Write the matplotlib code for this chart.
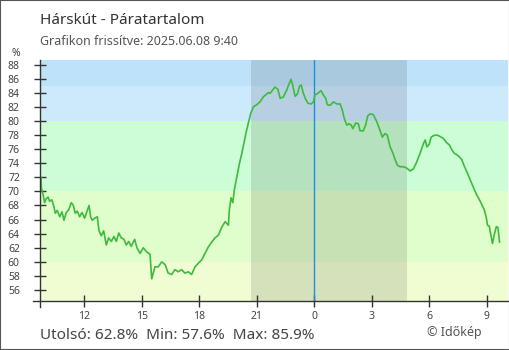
import matplotlib
matplotlib.use('Agg')
import matplotlib.pyplot as plt
from matplotlib.lines import Line2D
from matplotlib.patches import Rectangle

plt.rcParams['font.family'] = ['Noto Sans', 'DejaVu Sans']

# hours since 06.07 00:00 (values > 24 are on 06.08)
hours = [
    9.72, 9.74, 9.76, 9.84, 9.93, 10.02, 10.11, 10.19, 10.31, 10.42,
    10.49, 10.59, 10.72, 10.84, 10.94, 11.06, 11.19, 11.32, 11.43, 11.53,
    11.63, 11.76, 11.88, 12.02, 12.16, 12.25, 12.33, 12.42, 12.54, 12.68,
    12.77, 12.89, 13.01, 13.15, 13.27, 13.41, 13.55, 13.67, 13.80, 13.93,
    14.07, 14.19, 14.32, 14.45, 14.63, 14.75,
    14.91, 15.08, 15.26, 15.43, 15.52, 15.69,
    15.86, 16.04, 16.22, 16.38, 16.56, 16.73, 16.90, 17.08, 17.25, 17.43,
    17.60, 17.78, 17.95, 18.13, 18.30, 18.47, 18.65, 18.82, 19.00, 19.17,
    19.35, 19.52, 19.57, 19.66, 19.75, 19.83, 19.96, 20.10, 20.22, 20.34,
    20.45, 20.57, 20.69, 20.83, 21.00, 21.17, 21.34, 21.60, 21.69, 21.95,
    22.10, 22.22, 22.39, 22.57, 22.69, 22.79, 22.88, 23.00, 23.12, 23.23,
    23.32, 23.41, 23.53, 23.67, 23.84, 23.96, 24.04, 24.18, 24.35, 24.47,
    24.60, 24.68, 24.82, 25.00, 25.18, 25.35, 25.47, 25.56, 25.70, 25.82,
    25.93, 26.01, 26.17, 26.30, 26.39, 26.56, 26.68, 26.79, 26.91, 27.08,
    27.26, 27.40, 27.55, 27.69, 27.81, 27.96, 28.08, 28.22, 28.34, 28.48,
    28.65, 28.83, 29.00, 29.18, 29.35, 29.52, 29.70, 29.79, 29.88, 30.00,
    30.10, 30.22, 30.39, 30.56, 30.74, 30.91, 31.05, 31.18, 31.31, 31.44,
    31.57, 31.70, 31.84, 31.96, 32.10, 32.22, 32.36, 32.48, 32.62, 32.75,
    32.87, 32.97, 33.04, 33.13, 33.22, 33.30, 33.39, 33.50, 33.58, 33.67,
]
humidity = [
    71.0, 72.0, 70.5, 69.7, 68.4, 69.0, 69.2, 68.6, 68.8, 67.8,
    66.9, 67.3, 66.4, 67.1, 65.9, 67.0, 67.4, 68.4, 68.0, 66.9,
    67.2, 66.4, 67.0, 66.2, 67.3, 68.0, 66.4, 65.9, 66.2, 66.4,
    64.4, 63.7, 64.4, 62.4, 63.4, 62.9, 63.6, 62.9, 64.1, 63.4,
    63.2, 62.4, 62.9, 62.2, 63.2, 62.0,
    61.2, 62.0, 61.4, 61.1, 57.6, 59.3,
    59.3, 60.0, 59.6, 58.4, 58.2, 58.9, 58.6, 58.9, 58.4, 58.6,
    58.2, 59.3, 59.8, 60.3, 61.2, 62.1, 62.8, 63.4, 63.8, 64.9,
    65.7, 65.2, 67.4, 69.1, 68.4, 70.2, 72.0, 74.0, 75.4, 77.0,
    78.4, 79.8, 81.1, 82.0, 82.3, 82.7, 83.4, 84.0, 83.9, 84.8,
    84.5, 83.2, 83.4, 84.4, 85.3, 85.9, 85.0, 83.5, 83.8, 84.9,
    85.1, 84.1, 83.2, 82.5, 82.4, 82.7, 83.7, 83.9, 84.3, 83.7,
    83.2, 82.3, 82.2, 82.7, 82.4, 82.4, 81.5, 80.4, 79.4, 79.6,
    79.4, 78.9, 79.7, 79.6, 78.6, 78.6, 79.4, 80.7, 81.0, 80.9,
    79.9, 78.9, 77.7, 78.2, 78.0, 76.3, 75.6, 74.5, 73.7, 73.5,
    73.5, 73.3, 72.9, 73.2, 74.2, 75.4, 76.8, 77.3, 76.3, 76.7,
    77.7, 77.9, 78.0, 77.8, 77.5, 76.9, 76.6, 75.9, 75.4, 75.2,
    74.9, 74.5, 73.5, 72.8, 71.9, 71.1, 70.2, 69.5, 68.8, 68.1,
    67.4, 66.4, 65.2, 65.1, 63.8, 62.6, 63.8, 65.0, 64.9, 62.8,
]

# coloured humidity bands (lower, upper, colour)
bands = [
    (0, 60, '#f0fdd2'),
    (60, 70, '#e0fdcc'),
    (70, 80, '#ccfdd6'),
    (80, 85, '#cdeafd'),
    (85, 100, '#bde2fa'),
]
night = (20.70, 28.83)
midnight = 24
yticks = list(range(56, 89, 2))
xticks = [12, 15, 18, 21, 24, 27, 30, 33]
xlabels = ['12', '15', '18', '21', '0', '3', '6', '9']

fig = plt.figure(figsize=(5.1, 3.5), dpi=100)
ax = fig.add_axes([40 / 510, 49 / 350, 468 / 510, 241 / 350])
ax.set_xlim(9.69, 34.11)
ax.set_ylim(54.45, 88.64)

for lo, hi, c in bands:
    ax.axhspan(lo, hi, color=c, lw=0, zorder=0)
ax.axvspan(night[0], night[1], color='black', alpha=0.11, lw=0, zorder=1)
ax.axvline(midnight, color='#1e8fe0', lw=1.0, zorder=2)

ax.plot(hours, humidity, color='#3dbb3d', lw=1.2, zorder=3)

for s in ['top', 'right', 'left', 'bottom']:
    ax.spines[s].set_visible(False)
ax.add_line(Line2D([-0.016, 1], [0, 0], transform=ax.transAxes, color='#333333',
                   lw=1, clip_on=False, zorder=5))
ax.add_line(Line2D([0, 0], [-0.025, 1], transform=ax.transAxes, color='#333333',
                   lw=1, clip_on=False, zorder=5))

ax.set_yticks(yticks)
ax.set_xticks(xticks)
ax.set_xticklabels(xlabels)
ax.tick_params(axis='both', direction='inout', length=9, width=1, color='#333333',
               labelsize=7.5, labelcolor='#444444')
ax.tick_params(axis='y', pad=10)
ax.tick_params(axis='x', pad=2.5)

fig.text(40 / 510, 1 - 24 / 350, 'Hárskút - Páratartalom', fontsize=11,
         color='#333333', va='baseline')
fig.text(40 / 510, 1 - 45 / 350, 'Grafikon frissítve: 2025.06.08 9:40',
         fontsize=9, color='#555555', va='baseline')
fig.text(16 / 510, 1 - 56 / 350, '%', fontsize=7.5, color='#444444',
         ha='center', va='baseline')
fig.text(40 / 510, 1 - 339 / 350, 'Utolsó: 62.8%  Min: 57.6%  Max: 85.9%',
         fontsize=11, color='#444444', va='baseline')
fig.text(482 / 510, 1 - 336 / 350, '© Időkép', fontsize=9, color='#555555',
         ha='right', va='baseline')

fig.patches.append(Rectangle((0, 0), 1, 1, transform=fig.transFigure, fill=False,
                             edgecolor='#555555', lw=1.5))

fig.savefig('out.png', dpi=100)
